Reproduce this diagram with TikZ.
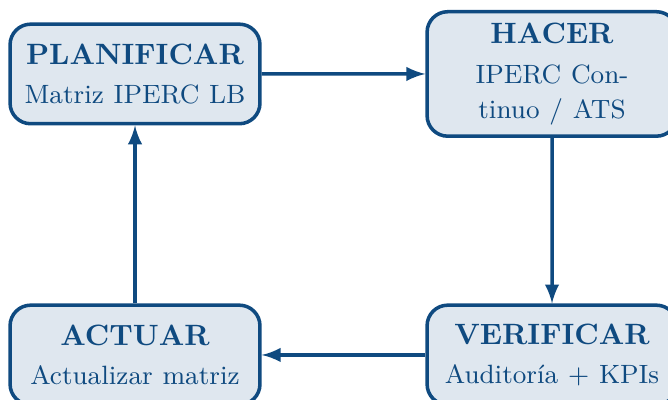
\documentclass[tikz,border=0pt]{standalone}
\usepackage{amsmath}
\usepackage{tikz}
\usetikzlibrary{calc,arrows}
\definecolor{cicloazul}{HTML}{0F4A80}
\definecolor{ciclofondo}{HTML}{DFE7EF}

\begin{document}
\begin{tikzpicture}[scale=0.918,
    fase/.style={draw=cicloazul, fill=ciclofondo, line width=1.2pt, rounded corners=7pt,
                 text=cicloazul, text width=2.72cm, align=center, minimum height=1.19cm, inner sep=3.8pt},
    flecha/.style={-latex, draw=cicloazul, line width=1.2pt}]
                      \useasboundingbox (0,0) rectangle (8.698,5.208);
                      \node[fase] (plan) at (1.758,4.245) {\textbf{PLANIFICAR}\\[1pt] \small Matriz IPERC LB};
                      \node[fase] (hacer) at (7.188,4.245) {\textbf{HACER}\\[1.5pt] \small IPERC Continuo / ATS};
                      \node[fase] (verif) at (7.188,0.586) {\textbf{VERIFICAR}\\[1pt] \small Auditoría + KPIs};
                      \node[fase] (actuar) at (1.758,0.586) {\textbf{ACTUAR}\\[1pt] \small Actualizar matriz};
                      \draw[flecha] (plan) -- (hacer);
                      \draw[flecha] (hacer) -- (verif);
                      \draw[flecha] (verif) -- (actuar);
                      \draw[flecha] (actuar) -- (plan);
                  \end{tikzpicture}
\end{document}
